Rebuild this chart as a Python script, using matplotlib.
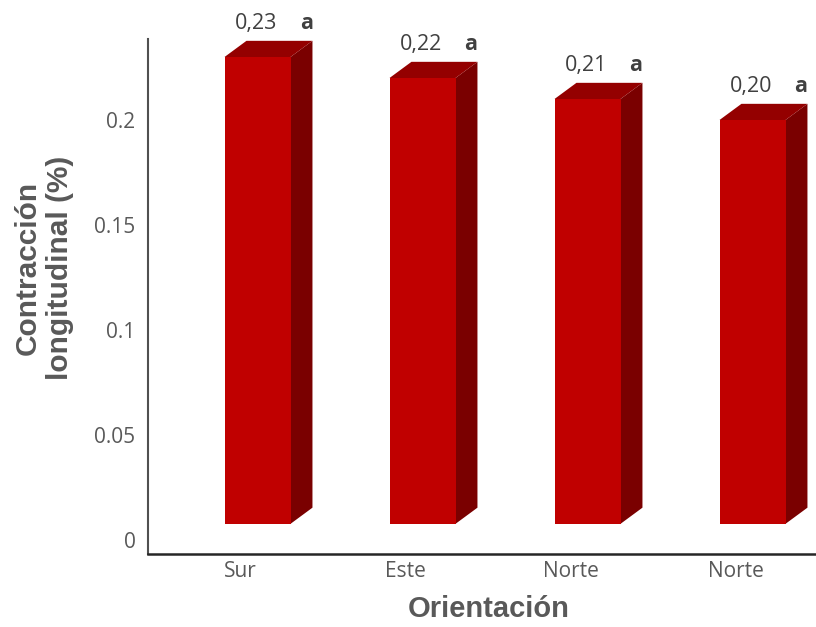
import numpy as np
import matplotlib.pyplot as plt
from matplotlib.patches import Polygon
from matplotlib.transforms import ScaledTranslation

# contraction per orientation (%)
orientaciones = ["Sur", "Este", "Norte", "Norte"]
contraccion = [0.23, 0.22, 0.21, 0.20]
letras = ["a", "a", "a", "a"]
yticks = [0, 0.05, 0.1, 0.15, 0.2]
ytick_labels = ["0", "0.05", "0.1", "0.15", "0.2"]

FRONT = "#c00000"
TOP = "#940000"
SIDE = "#7a0000"
TXT = "#595959"

fig = plt.figure(figsize=(8.16, 6.27), dpi=100)
ax = fig.add_axes([0.1814, 0.1164, 0.8186, 0.8214])

x = np.arange(len(orientaciones))
w = 0.4          # front face width
dx, dy = 0.133, 0.0077   # depth of the pseudo-3d boxes
base = 0.0077    # floor height of the front faces

for xi, v in zip(x, contraccion):
    l, r = xi - w / 2, xi + w / 2
    side = Polygon([(r, base), (r + dx, base + dy), (r + dx, v + dy), (r, v)],
                   closed=True, facecolor=SIDE, edgecolor="none", clip_on=False)
    top = Polygon([(l, v), (r, v), (r + dx, v + dy), (l + dx, v + dy)],
                  closed=True, facecolor=TOP, edgecolor="none", clip_on=False)
    front = Polygon([(l, base), (r, base), (r, v), (l, v)],
                    closed=True, facecolor=FRONT, edgecolor="none", clip_on=False)
    for p in (side, top, front):
        ax.add_patch(p)

for xi, v, let in zip(x, contraccion, letras):
    ax.annotate(f"{v:.2f}".replace(".", ","), xy=(xi, v), xytext=(-1, 24),
                textcoords="offset points", ha="center", va="center",
                fontsize=15.5, color="#404040", family="Open Sans",
                annotation_clip=False)
    ax.annotate(let, xy=(xi, v), xytext=(35, 24), textcoords="offset points",
                ha="center", va="center", fontsize=15.5, fontweight="bold",
                color="#404040", family="Open Sans", annotation_clip=False)

ax.set_xlim(-0.6636, 3.3848)
ax.set_ylim(-0.00667, 0.23857)

ax.set_xticks(x)
ax.set_xticklabels(orientaciones, fontsize=15, color=TXT, family="Open Sans")
ax.set_yticks(yticks)
ax.set_yticklabels(ytick_labels, fontsize=15, color=TXT, family="Open Sans")
ax.tick_params(axis="both", length=0)
ax.tick_params(axis="y", pad=9)
ax.tick_params(axis="x", pad=5)
for lab in ax.get_xticklabels():
    lab.set_transform(lab.get_transform() + ScaledTranslation(-0.17, 0, fig.dpi_scale_trans))

for s in ("top", "right"):
    ax.spines[s].set_visible(False)
ax.spines["left"].set_color("#505050")
ax.spines["left"].set_linewidth(1.5)
ax.spines["bottom"].set_color("#262626")
ax.spines["bottom"].set_linewidth(1.8)
ax.patch.set_visible(False)

fig.text(489 / 816, 1 - 609 / 627, "Orientación", ha="center", va="center",
         fontsize=21, fontweight="bold", color=TXT, family="Liberation Sans")
fig.text(44 / 816, 1 - 268 / 627, "Contracción\nlongitudinal (%)", ha="center",
         va="center", rotation=90, multialignment="center", fontsize=21.5,
         fontweight="bold", color=TXT, family="Liberation Sans")

fig.savefig("out.png", dpi=100)
